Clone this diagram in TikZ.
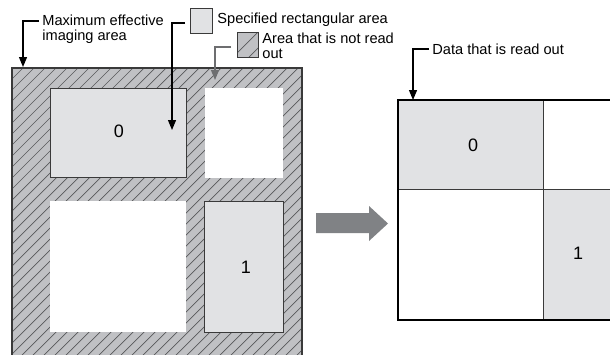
\documentclass[tikz,border=0pt]{standalone}
\usepackage{fontspec}
\setmainfont{Liberation Sans}
\usetikzlibrary{arrows.meta}
\definecolor{hatchbg}{HTML}{C0C1C4}
\definecolor{hatchln}{HTML}{58595B}
\definecolor{areafill}{HTML}{E1E2E4}
\definecolor{edge}{HTML}{3A3A3A}
\definecolor{bigarrow}{HTML}{808285}
\definecolor{greylead}{HTML}{6D6E70}
\tikzset{
  lbl/.style={font=\fontsize{7.3}{7.4}\selectfont, inner sep=0pt, align=left},
  num/.style={font=\fontsize{9}{10}\selectfont, inner sep=0pt},
  lead/.style={line width=0.6pt, -{Triangle[length=5pt,width=4pt]}},
  specbox/.style={draw=edge, line width=0.5pt, fill=areafill},
  hatchline/.style={draw=hatchln, line width=0.35pt}
}
\begin{document}
\begin{tikzpicture}[x=0.5pt,y=-0.5pt]
\clip (0,0) rectangle (610,354);
\fill[white] (0,0) rectangle (610,354);
% big hatched area
\fill[hatchbg] (12,68) rectangle (302,360);
\begin{scope}
  \clip (12,68) rectangle (302,360);
  \foreach \i in {-30,...,30} {
    \draw[hatchline] (\i*11+6,360) -- ++(320,-320);
  }
\end{scope}
\draw[edge, line width=0.7pt] (12,360) -- (12,68) -- (302,68) -- (302,360);
% inner rectangles
\node[specbox, minimum width=68pt, minimum height=44.5pt, inner sep=0pt] (r0) at (118,132.5) {};
\fill[white] (205,88) rectangle (283,178);
\fill[white] (50,201) rectangle (186,332);
\node[specbox, minimum width=39.5pt, minimum height=65.5pt, inner sep=0pt] (r1) at (243.5,266.5) {};
\node[num] at (119,131) {0};
\node[num] at (246,267) {1};
% legend
\node[specbox, minimum width=11pt, minimum height=12.5pt, inner sep=0pt] (legspec) at (201,21) {};
\node[lbl, anchor=base west] (spectxt) at (217,23) {Specified rectangular area};
\fill[hatchbg] (237,32) rectangle (258,57);
\begin{scope}
  \clip (237,32) rectangle (258,57);
  \draw[hatchline] (233,57) -- ++(30,-30);
  \draw[hatchline] (244,62) -- ++(30,-30);
\end{scope}
\node[draw=edge, line width=0.5pt, minimum width=10.5pt, minimum height=12.5pt, inner sep=0pt] (leghatch) at (247.5,44.5) {};
\node[lbl, anchor=north west] (hatchtxt) at (262,33) {Area that is not read\\out};
% max label
\node[lbl, anchor=north west] (maxtxt) at (42,15) {Maximum effective\\imaging area};
% data label
\node[lbl, anchor=base west] (datatxt) at (432,54) {Data that is read out};
% leaders
\coordinate (maxend) at (23,67);
\coordinate (specend) at (172,130);
\coordinate (hatchend) at (215,80);
\coordinate (dataend) at (413,100);
\draw[lead] (39,21) -| (maxend);
\draw[lead] (185,23) -| (specend);
\draw[lead, draw=greylead] (231,47) -| (hatchend);
\draw[lead] (429,49) -| (dataend);
% big arrow
\fill[bigarrow] (316,213) -- (369,213) -- (369,206) -- (388,223.5) -- (369,241) -- (369,233) -- (316,233) -- cycle;
% right grid
\fill[areafill] (398,100) rectangle (543,189);
\fill[areafill] (543,189) rectangle (614,320);
\draw[edge, line width=0.5pt] (543,100) -- (543,320);
\draw[edge, line width=0.5pt] (398,189) -- (614,189);
\draw[black, line width=0.7pt] (614,100) -- (398,100) -- (398,320) -- (614,320);
\node[num] (d0) at (473,145) {0};
\node[num] (d1) at (578,253) {1};
\end{tikzpicture}
\end{document}
